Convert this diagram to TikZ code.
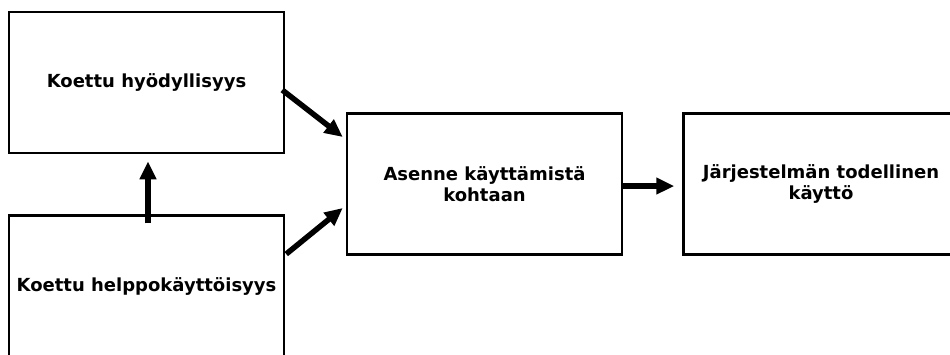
\documentclass[tikz,border=0pt]{standalone}
\usepackage{fontspec}
\setmainfont{DejaVu Sans}
\usetikzlibrary{arrows.meta}
\begin{document}
\begin{tikzpicture}[x=1pt,y=-1pt,
  box/.style={draw=black, line width=2.5pt, rectangle, minimum width=275pt, minimum height=141pt, inner sep=0pt, align=center, font=\fontsize{18}{21}\selectfont\bfseries},
  arr/.style={line width=5.5pt, -{Triangle[length=18pt,width=16pt]}}]
\useasboundingbox[fill=white] (0,0) rectangle (950,354);
\node[box] (b1) at (146.5,82.5) {Koettu hyödyllisyys};
\node[box] (b2) at (146.5,286) {Koettu helppokäyttöisyys};
\node[box] (b3) at (484.5,184) {Asenne käyttämistä\\kohtaan};
\node[box] (b4) at (821,184) {Järjestelmän todellinen\\käyttö};
\draw[arr] ([xshift=1.5pt,yshift=-9pt]b2.north) -- ([xshift=1.5pt,yshift=-7pt]b1.south);
\draw[arr] ([xshift=-3pt,yshift=-7.5pt]b1.east) -- ([xshift=-3pt,yshift=47pt]b3.west);
\draw[arr] ([xshift=1pt,yshift=32pt]b2.east) -- ([xshift=-3pt,yshift=-24pt]b3.west);
\draw[arr] ([yshift=-2pt]b3.east) -- ([xshift=-8pt,yshift=-2pt]b4.west);
\end{tikzpicture}
\end{document}
